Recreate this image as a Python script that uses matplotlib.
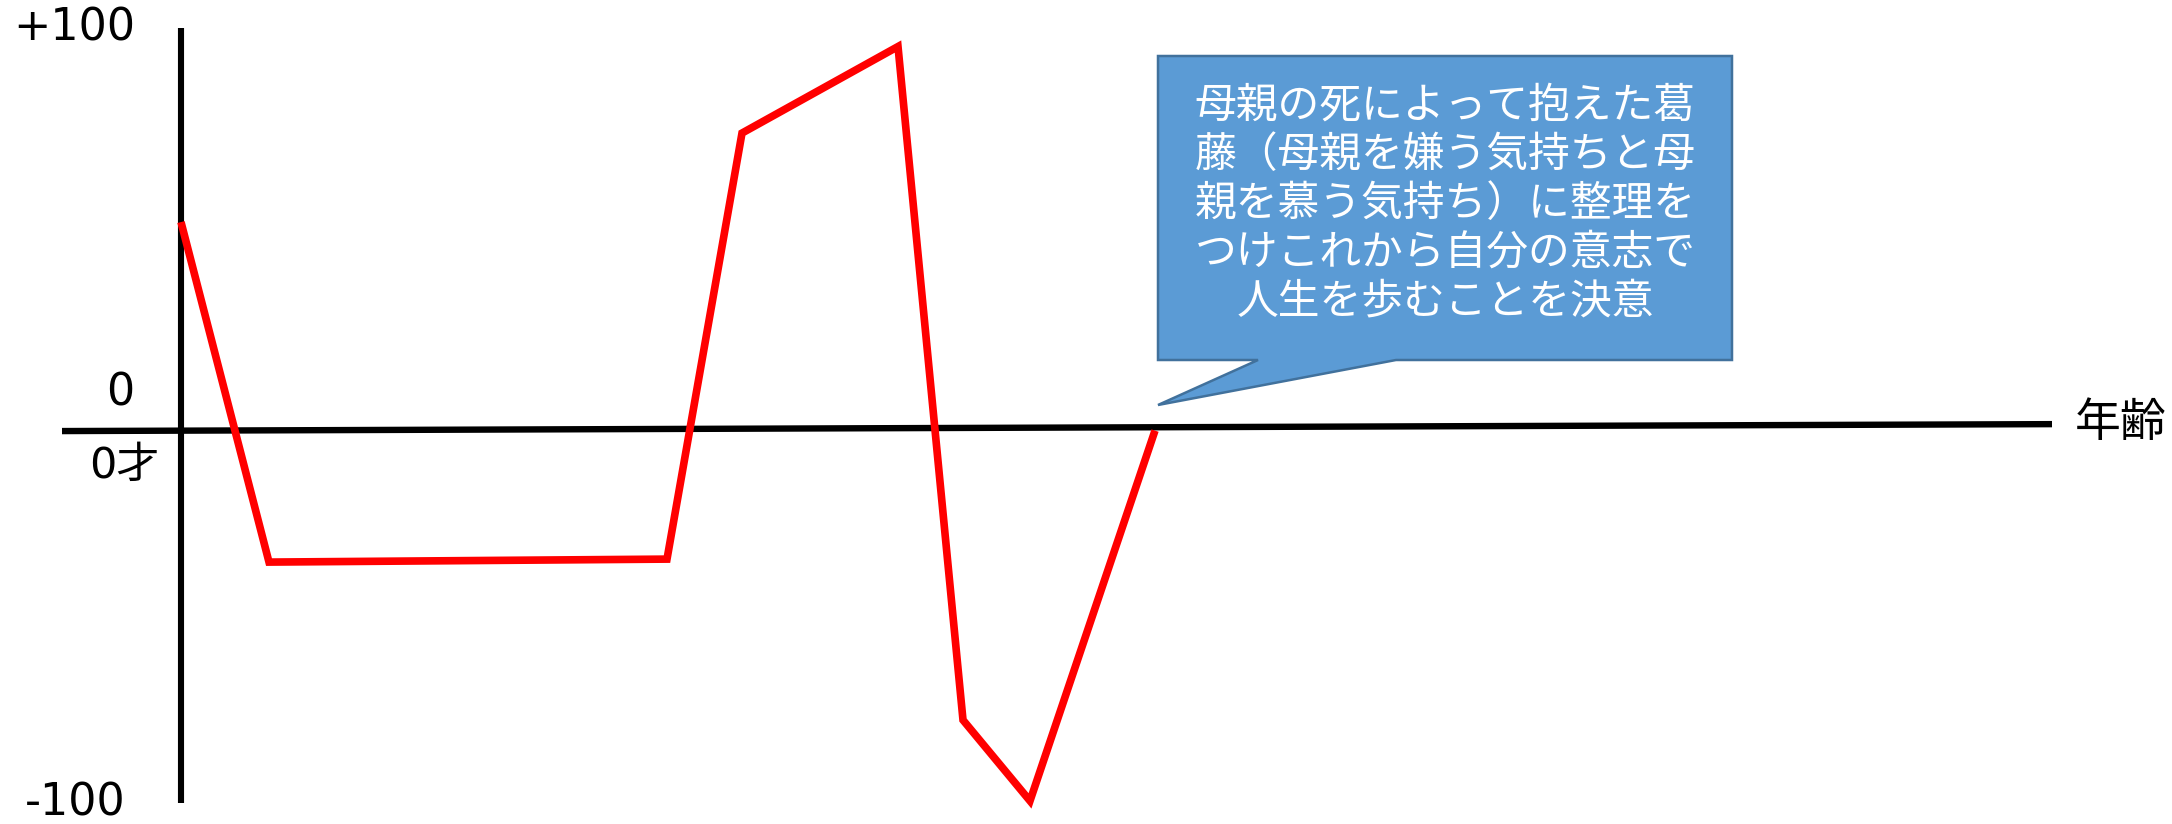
import numpy as np
import matplotlib
matplotlib.use("Agg")
import matplotlib.pyplot as plt
from matplotlib.patches import Polygon

plt.rcParams['font.family'] = ['Noto Sans CJK JP', 'DejaVu Sans']

# ---- data ----
ages = [0.0, 8.8, 48.6, 56.1, 71.7, 78.2, 84.9, 97.4]
scores = [51.8, -35.3, -34.5, 73.9, 95.4, -77.7, -99.4, 0.0]
y_labels = ["+100", "0", "-100"]
x_origin_label = "0才"
x_axis_label = "年齢"
callout_text = ("母親の死によって抱えた葛\n"
                "藤（母親を嫌う気持ちと母\n"
                "親を慕う気持ち）に整理を\n"
                "つけこれから自分の意志で\n"
                "人生を歩むことを決意")

W, H = 2172, 824
fig = plt.figure(figsize=(W / 100, H / 100), dpi=100)
ax = fig.add_axes([0, 0, 1, 1])
ax.set_axis_off()

# piecewise linear y scale (upper half and lower half drawn with slightly different spans)
k = 372.5 / 402.5
def fwd(y):
    y = np.asarray(y, dtype=float)
    return np.where(y >= 0, y, y * k)
def inv(y):
    y = np.asarray(y, dtype=float)
    return np.where(y >= 0, y, y / k)
ax.set_yscale('function', functions=(fwd, inv))
ax.set_xlim(-18.1, 199.1)
ax.set_ylim(-105.6, 106.96)

# axes lines
ax.plot([-11.9, 187.1], [-0.13, 1.6], color='black', lw=4.6, solid_capstyle='butt', zorder=2)
ax.plot([0, 0], [-100, 100], color='black', lw=4.4, solid_capstyle='butt', zorder=2)

# life line
ax.plot(ages, scores, color='#FF0000', lw=5.5, solid_joinstyle='miter', solid_capstyle='butt', zorder=3)

# labels
num_font = ['DejaVu Sans', 'Noto Sans CJK JP']
ax.text(-10.7, 100, y_labels[0], fontsize=32, ha='center', va='center', family=num_font)
ax.text(-6.1, 9.4, y_labels[1], fontsize=32, ha='center', va='center', family=num_font)
ax.text(-10.6, -100, y_labels[2], fontsize=32, ha='center', va='center', family=num_font)
ax.text(-5.7, -9.6, x_origin_label, fontsize=31, ha='center', va='center', family=num_font)
ax.text(194.0, 1.9, x_axis_label, fontsize=33, ha='center', va='center')

# callout box (in figure-fraction coordinates)
px = [(1158, 56), (1732, 56), (1732, 360), (1396, 360), (1158, 405), (1258, 360), (1158, 360)]
verts = [(x / W, 1 - y / H) for x, y in px]
poly = Polygon(verts, closed=True, facecolor='#5B9BD5', edgecolor='#41719C', lw=1.8,
               transform=ax.transAxes, zorder=4)
ax.add_patch(poly)
ax.text(1445 / W, 1 - 204 / H, callout_text, transform=ax.transAxes, fontsize=30.1,
        color='white', ha='center', va='center', multialignment='center',
        linespacing=1.245, zorder=5)

fig.savefig("out.png", dpi=100)
